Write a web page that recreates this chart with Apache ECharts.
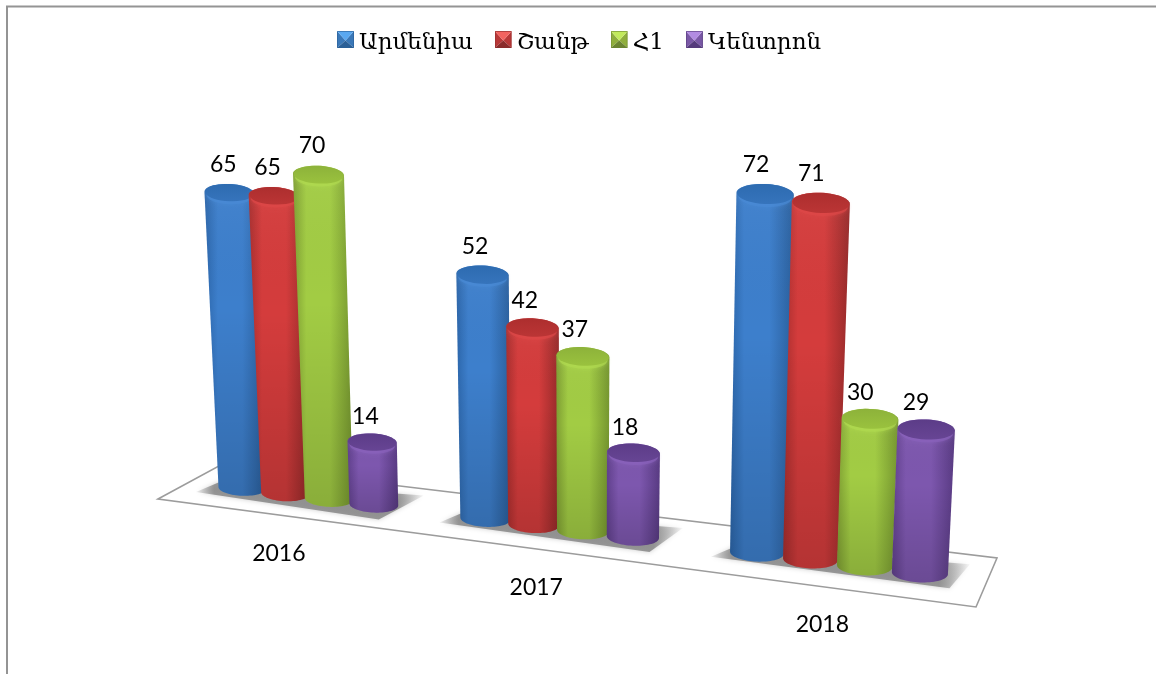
<!DOCTYPE html>
<html><head><meta charset="utf-8">
<style>html,body{margin:0;padding:0;background:#fff}#c{width:1156px;height:674px}</style>
<script src="https://cdn.jsdelivr.net/npm/echarts@6/dist/echarts.min.js"></script>
</head><body><div id="c"></div>
<script>
const categories = ['2016','2017','2018'];
const seriesNames = ['Արմենիա','Շանթ','Հ1','Կենտրոն'];
const armenia = [65,52,72];
const shant = [65,42,71];
const h1 = [70,37,30];
const kentron = [14,18,29];
const allValues = [armenia,shant,h1,kentron];

const palette = [
 {l:'#2c66aa',m:'#3d7fcc',r:'#2a5f9c',cap:'#2d6bb0',capB:'#3674bc',rim:'#4a8ad6',ico:['#5aa8f0','#3a78b8','#2a5f96']},
 {l:'#a82e2e',m:'#d43c3c',r:'#962a2a',cap:'#ad2e2e',capB:'#bb3535',rim:'#de4848',ico:['#f26460','#b83838','#8a2c2c']},
 {l:'#7f9f33',m:'#a2cc44',r:'#75962f',cap:'#8db23a',capB:'#9ac23e',rim:'#b0da50',ico:['#c2ea5c','#8fae3c','#6a8430']},
 {l:'#60408c',m:'#7d57ae',r:'#583a82',cap:'#5c3c88',capB:'#674594',rim:'#8a62bc',ico:['#b28ce2','#7a58a6','#553a7c']}
];
const legendPadRight = [11,0,1,0];
const FONT = 'Lato, "Open Sans", sans-serif';
const SLOT = 42.5, GX0 = 242, GROUP = 5.4, PXU = 4.5, GY0 = 488;

// perspective warp of the cartesian pixel position delivered by the axes
function project(px, py){
  const t = (px - GX0) / SLOT;
  const xb = px + 0.48 * t * t;
  const yb = GY0 + 0.1256 * (xb - GX0);
  const v = (GY0 - py) / PXU;
  const k = 4.35 + 0.0008 * (xb - 300) + 0.0037 * v;
  const h = k * v;
  const lean = 0.000128 * (xb - 580);
  return {xb, yb, h, x: xb + lean * h, y: yb - h};
}
function ellipse(cx, cy, w, ry, from, to){
  const out = [], n = 36;
  for(let i = 0; i <= n; i++){
    const a = from + (to - from) * i / n;
    const dx = Math.cos(a) * w / 2;
    out.push([cx + dx, cy + Math.sin(a) * ry + dx * 0.04]);
  }
  return out;
}
const lin = (x0,y0,x1,y1,stops) => new echarts.graphic.LinearGradient(x0,y0,x1,y1,stops.map(c=>({offset:c[0],color:c[1]})));

function barRender(si){
  const pal = palette[si];
  return function(params, api){
    const g = api.value(0), v = api.value(1);
    const c1 = api.coord([g, v]);
    const dx = (si - 1.5) * SLOT;
    const p = project(c1[0] + dx, c1[1]);
    const wb = 47 + 0.0133 * (p.xb - GX0);
    const wt = wb * (1 + 0.00018 * p.h);
    const rb = wb * 0.165, rt = wt * 0.175;
    const body = ellipse(p.xb, p.yb, wb, rb, 0, Math.PI)
      .concat(ellipse(p.x, p.y, wt, rt, Math.PI, 2 * Math.PI));
    const children = [
      {type:'polygon', shape:{points:body}, style:{fill:lin(0,0,1,0,[[0,pal.l],[0.22,pal.m],[0.62,pal.m],[1,pal.r]])}},
      {type:'polygon', shape:{points:body}, style:{fill:lin(0,0,0,1,[[0,'rgba(255,255,255,0.04)'],[0.4,'rgba(0,0,0,0)'],[1,'rgba(0,0,0,0.15)']])}},
      {type:'polygon', shape:{points:ellipse(p.x, p.y + 3, wt - 4, rt, 0, 2 * Math.PI)}, style:{fill:pal.rim, opacity:0.6, shadowBlur:4, shadowColor:pal.rim}},
      {type:'polygon', shape:{points:ellipse(p.x, p.y, wt - 1, rt, 0, 2 * Math.PI)}, style:{fill:lin(0,0,0,1,[[0,pal.cap],[1,pal.capB]])}},
      {type:'text', z2:100, style:{text:String(v), x:p.x - 6 - 0.006 * (p.x - GX0), y:p.y - 24.5 - 0.0135 * p.h, fill:'#000', font:'23px '+FONT, align:'center', verticalAlign:'middle'}}
    ];
    return {type:'group', children};
  };
}
function floorRender(params, api){
  const g = api.value(0);
  const c = api.coord([g, 0]);
  const a = project(c[0] - 1.5 * SLOT, c[1]);
  const b = project(c[0] + 1.5 * SLOT, c[1]);
  const m = project(c[0], c[1]);
  const low = 3 + 0.045 * (b.xb - 374);
  const pts = [[a.xb-46,a.yb+4],[a.xb-20,a.yb-7],[b.xb+50,b.yb-9],[b.xb+low+2,b.yb+15]];
  const shade = a => `rgba(130,130,130,${a})`;
  return {type:'group', children:[
    {type:'polygon', shape:{points:pts}, style:{fill:lin(0,0,1,0,[[0,shade(0.1)],[0.08,shade(0.8)],[0.88,shade(0.8)],[1,shade(0.05)]]), shadowBlur:5, shadowColor:shade(0.5)}},
    {type:'text', style:{text:categories[g], x:m.xb - 28 + 0.0245 * (m.xb - 307), y:m.yb + 57.5 + 0.0075 * (m.xb - 307), fill:'#000', font:'23px '+FONT, align:'center', verticalAlign:'middle'}}
  ]};
}
function icon(p){
  const c = p.ico, s = 17, q = s / 2, r = q + 1;
  const svg = `<svg xmlns="http://www.w3.org/2000/svg" width="${s}" height="${s}"><polygon fill="${c[1]}" points="0,0 ${q},${r} 0,${s}"/><polygon fill="${c[1]}" points="${s},0 ${q},${r} ${s},${s}"/><polygon fill="${c[2]}" points="0,${s} ${q},${r} ${s},${s}"/><polygon fill="${c[0]}" points="0,0 ${s},0 ${q},${r}"/><rect x="0.5" y="0.5" width="16" height="16" fill="none" stroke="${c[2]}" stroke-opacity="0.6"/></svg>`;
  return 'image://data:image/svg+xml;charset=utf-8,' + encodeURIComponent(svg);
}
const legendRich = {};
legendPadRight.forEach((r,i)=>{ legendRich['p'+i] = {fontFamily:'"DejaVu Serif"', fontSize:23, color:'#000', padding:[8,r,0,0]}; });
const chart = echarts.init(document.getElementById('c'));
chart.setOption({
  animation:false,
  backgroundColor:'#fff',
  legend:{
    left:332, top:26, itemWidth:17, itemHeight:17, itemGap:22, selectedMode:false,
    textStyle:{fontFamily:'"DejaVu Serif"', fontSize:23, color:'#000', rich:legendRich},
    formatter:n => `{p${seriesNames.indexOf(n)}|${n}}`,
    data:seriesNames.map((n,i)=>({name:n, icon:icon(palette[i])}))
  },
  grid:{left:GX0-51, width:3*GROUP*SLOT, top:GY0-80*PXU, height:80*PXU},
  xAxis:{type:'category', data:categories, show:false},
  yAxis:{type:'value', min:0, max:80, show:false},
  graphic:[
    {type:'polyline', z:0, shape:{points:[[7,674],[7,6.5],[1156,6.5]]}, style:{stroke:'#949494', lineWidth:2, fill:null}},
    {type:'polygon', z:0, shape:{points:[[158,499],[221.6,464.5],[997,558],[976,607]]}, style:{fill:'#fff', stroke:'#9c9c9c', lineWidth:1.6}}
  ],
  series:[
    {type:'custom', name:'floor', z:1, silent:true, clip:false, renderItem:floorRender, encode:{x:0,y:1},
     data:categories.map((c,g)=>[g,0])}
  ].concat(seriesNames.map((n,si)=>({
    type:'custom', name:n, z:2+si, silent:true, clip:false, renderItem:barRender(si), encode:{x:0,y:1},
    data:categories.map((c,g)=>[g,allValues[si][g]])
  })))
});
</script></body></html>
